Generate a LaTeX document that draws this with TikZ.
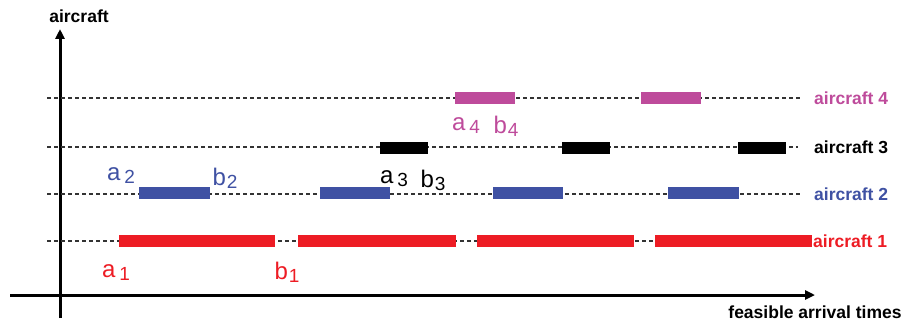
\documentclass[tikz,border=0pt]{standalone}
\usepackage{fontspec}
\setmainfont{Liberation Sans}
\usetikzlibrary{arrows.meta}
\definecolor{acred}{RGB}{237,28,36}
\definecolor{acblue}{RGB}{63,81,163}
\definecolor{acmag}{RGB}{190,75,155}
\tikzset{
 axis/.style={line width=3pt,-{Triangle[length=10pt,width=9pt]}},
 axislabel/.style={font=\fontsize{17.5}{17.5}\selectfont\bfseries,inner sep=0},
 track/.style={draw=black!80,line width=1.1pt,dash pattern=on 4pt off 3pt},
 window/.style={line width=12pt},
 tag/.style={font=\fontsize{17.5}{17.5}\selectfont\bfseries,anchor=west,inner sep=0},
 endpt/.style={font=\fontsize{24}{24}\selectfont,anchor=base,inner sep=0}
}
% endpoint label: letter with a large, lowered index
\newcommand{\ep}[3]{#1\kern#3\raisebox{-3pt}{\fontsize{19}{19}\selectfont #2}}

\begin{document}
\begin{tikzpicture}[x=1pt,y=-1pt]
\path[use as bounding box] (0,0) rectangle (909,321);
% axes
\coordinate (ybot) at (60,318);
\coordinate (ytop) at (60,29);
\coordinate (xleft) at (10,295);
\coordinate (xright) at (815,295);
\draw[axis] (ybot) -- (ytop);
\draw[axis] (xleft) -- (xright);
\node[axislabel] (ylab) at (79,16) {aircraft};
\node[axislabel] (xlab) at (815,312) {feasible arrival times};
% one dashed track per aircraft
\foreach \y/\e in {98/800,147/798,194/800,241/812}
  \draw[track] (47,\y) -- (\e,\y);
% time windows
\foreach \a/\b in {119/275,298/456,477/634,655/812}
  \draw[window,acred] (\a,241) -- (\b,241);
\foreach \a/\b in {139/210,320/390,493/563,668/739}
  \draw[window,acblue] (\a,193) -- (\b,193);
\foreach \a/\b in {380/428,562/610,738/786}
  \draw[window,black] (\a,148) -- (\b,148);
\foreach \a/\b in {455/515,641/701}
  \draw[window,acmag] (\a,98) -- (\b,98);
% aircraft names
\node[tag,acmag] (tag4) at (814,98) {aircraft 4};
\node[tag,black] (tag3) at (814,147) {aircraft 3};
\node[tag,acblue] (tag2) at (814,194) {aircraft 2};
\node[tag,acred] (tag1) at (813,241) {aircraft 1};
% window ends
\node[endpt,acred] (a1) at (116,277) {\ep{a}{1}{4pt}};
\node[endpt,acred] (b1) at (287,279) {\ep{b}{1}{1pt}};
\node[endpt,acblue] (a2) at (121,180) {\ep{a}{2}{4pt}};
\node[endpt,acblue] (b2) at (225,185) {\ep{b}{2}{1pt}};
\node[endpt,black] (a3) at (394,183) {\ep{a}{3}{4pt}};
\node[endpt,black] (b3) at (433,187) {\ep{b}{3}{1pt}};
\node[endpt,acmag] (a4) at (466,130) {\ep{a}{4}{4pt}};
\node[endpt,acmag] (b4) at (506,133) {\ep{b}{4}{1pt}};
\end{tikzpicture}
\end{document}
